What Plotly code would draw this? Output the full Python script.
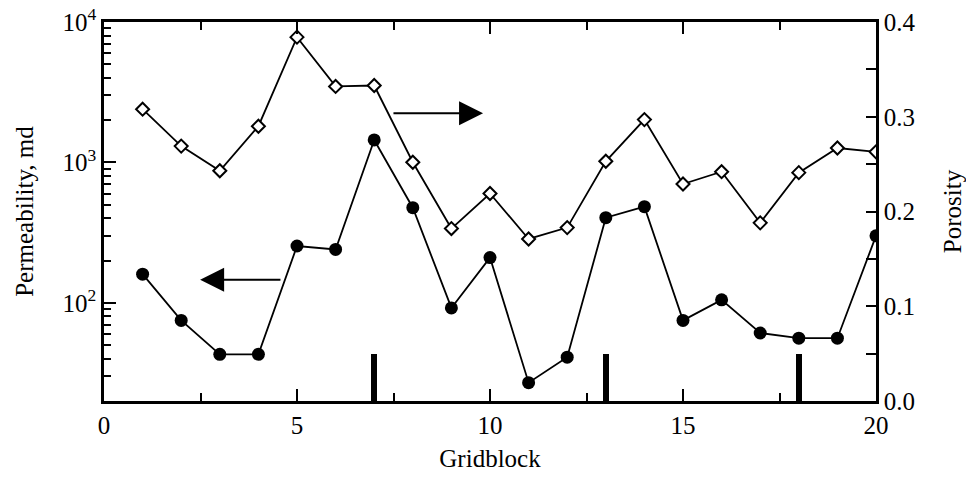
import math
import plotly.graph_objects as go

# ---- data ----
gridblock = list(range(1, 21))
permeability = [160, 75, 43, 43, 254, 240, 1445, 476, 92, 210,
                27, 41, 404, 484, 75, 105, 61, 56, 56, 300]
porosity = [0.308, 0.269, 0.243, 0.290, 0.384, 0.332, 0.333, 0.252, 0.182, 0.219,
            0.171, 0.183, 0.253, 0.297, 0.229, 0.242, 0.188, 0.241, 0.267, 0.263]
well_blocks = [7, 13, 18]
well_marks = [0.05, 0.05, 0.05]

x_tickvals = [0, 5, 10, 15, 20]
perm_tickvals = [100, 1000, 10000]
perm_ticktext = ["10<sup>2</sup>", "10<sup>3</sup>", "10<sup>4</sup>"]
perm_minor = [m * 10 ** d for d in (1, 2, 3) for m in range(2, 10) if m * 10 ** d >= 20]
por_tickvals = [0.0, 0.1, 0.2, 0.3, 0.4]
por_ticktext = ["0.0", "0.1", "0.2", "0.3", "0.4"]

FONT = "'Liberation Serif', 'Times New Roman', Times, serif"
FS = 25

fig = go.Figure()

fig.add_trace(go.Bar(
    x=well_blocks, y=well_marks, yaxis="y2", width=0.15,
    marker=dict(color="black", line=dict(width=0)), showlegend=False,
))

fig.add_trace(go.Scatter(
    x=gridblock, y=permeability, mode="lines+markers",
    line=dict(color="black", width=1.8),
    marker=dict(symbol="circle", size=13, color="black"),
    showlegend=False,
))

fig.add_trace(go.Scatter(
    x=gridblock, y=porosity, mode="lines+markers", yaxis="y2",
    line=dict(color="black", width=1.8),
    marker=dict(symbol="diamond", size=10, color="white",
                line=dict(color="black", width=2)),
    showlegend=False,
))

axis_common = dict(showline=True, linecolor="black", linewidth=2.5,
                   ticks="inside", tickcolor="black", tickwidth=2,
                   showgrid=False, zeroline=False, automargin=False,
                   tickfont=dict(family=FONT, size=FS, color="black"))

fig.update_layout(
    width=966, height=479,
    margin=dict(l=104, r=90, t=22, b=78),
    paper_bgcolor="white", plot_bgcolor="white",
    font=dict(family=FONT, size=FS, color="black"),
    bargap=0,
    xaxis=dict(
        range=[0, 20], tickmode="array", tickvals=x_tickvals, ticklen=12,
        mirror="ticks",
        minor=dict(tickmode="linear", tick0=0, dtick=2.5, ticks="inside",
                   ticklen=8, tickwidth=2, tickcolor="black"),
        title=dict(text="Gridblock", font=dict(family=FONT, size=FS), standoff=12),
        **axis_common,
    ),
    yaxis=dict(
        type="log", range=[math.log10(20), 4],
        tickmode="array", tickvals=perm_tickvals, ticktext=perm_ticktext,
        ticklen=12,
        minor=dict(tickmode="array", tickvals=perm_minor, ticks="inside",
                   ticklen=7, tickwidth=2, tickcolor="black"),
        title=dict(text="Permeability, md", font=dict(family=FONT, size=FS), standoff=22),
        **axis_common,
    ),
    yaxis2=dict(
        overlaying="y", side="right", range=[0, 0.4],
        tickmode="array", tickvals=por_tickvals, ticktext=por_ticktext,
        ticklen=10,
        minor=dict(tickmode="linear", tick0=0, dtick=0.05, ticks="inside",
                   ticklen=10, tickwidth=2, tickcolor="black"),
        title=dict(text="Porosity", font=dict(family=FONT, size=FS), standoff=30),
        **axis_common,
    ),
)

# direction arrows (which axis each curve belongs to)
arrows = [
    dict(tip_x=2.49, tail_x=4.61, y=0.128),
    dict(tip_x=9.82, tail_x=7.46, y=0.3036),
]
for a in arrows:
    fig.add_annotation(
        x=a["tip_x"], y=a["y"], ax=a["tail_x"], ay=a["y"],
        xref="x", yref="y2", axref="x", ayref="y2",
        text="", showarrow=True, arrowhead=2, arrowsize=2.4,
        arrowwidth=2, arrowcolor="black",
    )

fig.write_html("out.html")
